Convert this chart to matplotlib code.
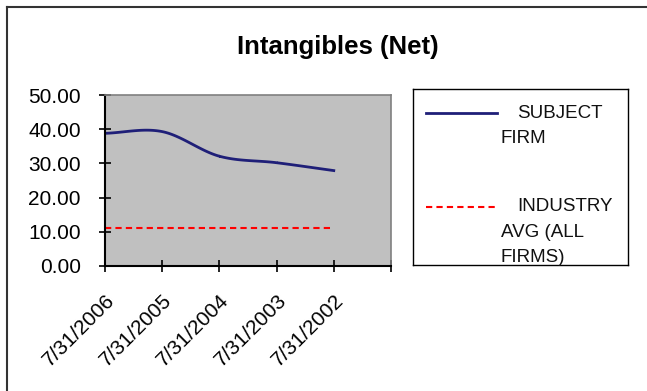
import numpy as np
import matplotlib
matplotlib.use("Agg")
import matplotlib.pyplot as plt
from matplotlib.lines import Line2D

# Datos del gráfico
fechas = ["7/31/2006", "7/31/2005", "7/31/2004", "7/31/2003", "7/31/2002"]
empresa = [38.8, 39.3, 32.1, 30.2, 27.9]
industria = [11.0, 11.0, 11.0, 11.0, 11.0]
yticks = [0, 10, 20, 30, 40, 50]


# Curva suavizada tipo Excel (Catmull-Rom)
def suavizar(x, y, n=30):
    x = np.asarray(x, float)
    y = np.asarray(y, float)
    px = np.concatenate([[2 * x[0] - x[1]], x, [2 * x[-1] - x[-2]]])
    py = np.concatenate([[2 * y[0] - y[1]], y, [2 * y[-1] - y[-2]]])
    xs, ys = [], []
    t = np.linspace(0, 1, n)
    for i in range(1, len(px) - 2):
        for p, out in ((px, xs), (py, ys)):
            p0, p1, p2, p3 = p[i - 1], p[i], p[i + 1], p[i + 2]
            out.extend(0.5 * (2 * p1 + (-p0 + p2) * t
                              + (2 * p0 - 5 * p1 + 4 * p2 - p3) * t**2
                              + (-p0 + 3 * p1 - 3 * p2 + p3) * t**3))
    return np.array(xs), np.array(ys)


plt.rcParams['font.family'] = ['Liberation Sans', 'DejaVu Sans']

fig = plt.figure(figsize=(6.47, 3.91), dpi=100)

# Marco del gráfico (solo se ven los bordes izquierdo y superior)
fig.add_artist(Line2D([0.0103, 0.0103], [0.0, 0.982], color="#333333", lw=1.5))
fig.add_artist(Line2D([0.0103, 1.0], [0.982, 0.982], color="#333333", lw=1.5))

fig.text(0.5215, 0.861, "Intangibles (Net)", ha="center", va="baseline",
         fontsize=18.5, fontweight="bold")

ax = fig.add_axes([0.1623, 0.3197, 0.442, 0.4373])
ax.set_facecolor("#C0C0C0")

x = np.arange(len(fechas))
xs, ys = suavizar(x, empresa)
ax.plot(xs, ys, color="#1F1F78", lw=2)
ax.plot(x, industria, color="#FF0000", lw=1.5, ls=(0, (3, 2)))

ax.set_xlim(0, len(fechas))
ax.set_ylim(0, 50)
ax.set_xticks(np.arange(len(fechas) + 1))
ax.set_xticklabels(fechas + [""], rotation=45, ha="right", va="top",
                   rotation_mode="anchor", fontsize=15)
ax.set_yticks(yticks)
ax.set_yticklabels(["%.2f" % v for v in yticks], fontsize=15)
ax.tick_params(axis="both", direction="inout", length=9, width=1.2, color="black")
ax.tick_params(axis="y", pad=13)
ax.tick_params(axis="x", pad=13)
for s in ["top", "right"]:
    ax.spines[s].set_color("#808080")
    ax.spines[s].set_linewidth(1.2)
for s in ["left", "bottom"]:
    ax.spines[s].set_color("black")
    ax.spines[s].set_linewidth(1.5)

# Leyenda dibujada a mano
lg = fig.add_axes([0.6383, 0.3223, 0.3323, 0.450])
lg.set_xlim(0, 215)
lg.set_ylim(176, 0)
lg.set_xticks([])
lg.set_yticks([])
for s in lg.spines.values():
    s.set_color("black")
    s.set_linewidth(1.0)
lg.plot([13, 84], [24, 24], color="#1F1F78", lw=2)
lg.plot([13, 84], [118, 118], color="#FF0000", lw=1.5, ls=(0, (3, 2)))
txt = dict(fontsize=13.5, va="center", ha="left", color="#111111")
lg.text(104, 24, "SUBJECT", **txt)
lg.text(88, 49, "FIRM", **txt)
lg.text(104, 118, "INDUSTRY", **txt)
lg.text(88, 144, "AVG (ALL", **txt)
lg.text(88, 169, "FIRMS)", **txt)

fig.savefig("out.png", dpi=100)
